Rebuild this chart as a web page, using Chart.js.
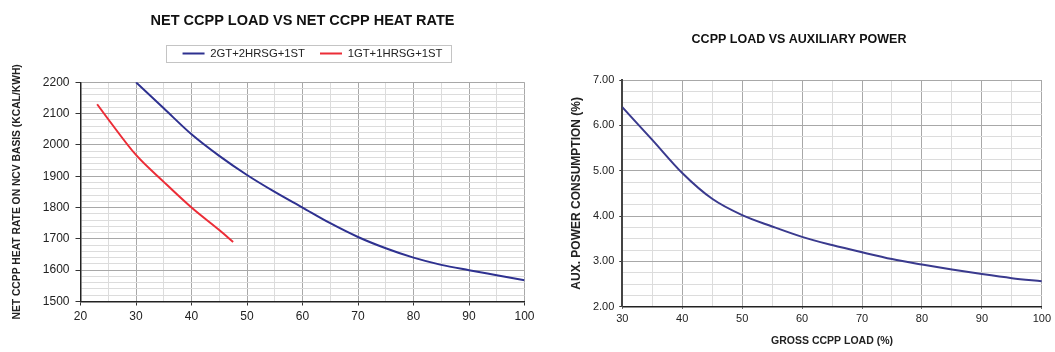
<!DOCTYPE html>
<html>
<head>
<meta charset="utf-8">
<script src="https://cdn.jsdelivr.net/npm/chart.js@4.4.1/dist/chart.umd.min.js"></script>
<style>
    html, body { margin: 0; padding: 0; background: #fff; }
    body { width: 1055px; height: 352px; position: relative; overflow: hidden; }
    #heat-rate-chart { position: absolute; left: 0; top: 0; }
    #aux-power-chart { position: absolute; left: 556px; top: 0; }
</style>
</head>
<body>
<canvas id="heat-rate-chart" width="606" height="352"></canvas>
<canvas id="aux-power-chart" width="499" height="352"></canvas>
<script>
const heatRateChart = document.getElementById('heat-rate-chart');
const auxPowerChart = document.getElementById('aux-power-chart');

// net CCPP load (%) against net heat rate (kcal/kWh)
const twoTrainLoad = [30, 35, 40, 45, 50, 55, 60, 65, 70, 75, 80, 85, 90, 95, 100];
const twoTrainHeatRate = [2200, 2117, 2034, 1965, 1904, 1850, 1800, 1750, 1706, 1670, 1640, 1617, 1600, 1584, 1568];
const oneTrainLoad = [23, 25, 30, 35, 40, 45, 47.5];
const oneTrainHeatRate = [2130, 2082, 1968, 1882, 1800, 1728, 1690];
const netLoadLabels = [20, 30, 40, 50, 60, 70, 80, 90, 100];
const heatRateLabels = [1500, 1600, 1700, 1800, 1900, 2000, 2100, 2200];

// gross CCPP load (%) against auxiliary power consumption (%)
const grossLoad = [30, 35, 40, 45, 50, 55, 60, 65, 70, 75, 80, 85, 90, 95, 100];
const auxPower = [6.40, 5.68, 4.95, 4.38, 4.02, 3.77, 3.54, 3.36, 3.20, 3.05, 2.93, 2.82, 2.72, 2.63, 2.56];
const grossLoadLabels = [30, 40, 50, 60, 70, 80, 90, 100];
const auxPowerLabels = [2, 3, 4, 5, 6, 7];

Chart.defaults.font.family = "'Liberation Sans', Arial, sans-serif";
Chart.defaults.color = '#222';

function toPoints(xs, ys) {
    return xs.map((x, i) => ({ x: x, y: ys[i] }));
}

function isMajor(labels, value) {
    return labels.some(v => Math.abs(v - value) < 1e-9);
}

// dark lines on labelled values, light ones in between
function gridFor(labels, tickLength) {
    return {
        color: ctx => isMajor(labels, ctx.tick.value) ? '#a8a8a8' : '#dcdcdc',
        tickColor: ctx => isMajor(labels, ctx.tick.value) ? '#333' : 'rgba(0,0,0,0)',
        tickLength: tickLength,
        lineWidth: 1
    };
}

// legend sits a little right of the plot centre, inside a grey frame
const legendFrame = {
    id: 'legendFrame',
    afterLayout(chart) {
        chart.legend.left += 10;
        chart.legend.right += 10;
    },
    afterDraw(chart) {
        const boxes = chart.legend && chart.legend.legendHitBoxes;
        if (!boxes || !boxes.length) return;
        const first = boxes[0];
        const last = boxes[boxes.length - 1];
        const ctx = chart.ctx;
        ctx.save();
        ctx.strokeStyle = '#c4c4c4';
        ctx.lineWidth = 1;
        ctx.strokeRect(Math.round(first.left - 17) + 0.5, Math.round(first.top - 3) + 0.5,
            Math.round(last.left + last.width - first.left + 25), Math.round(first.height + 6));
        ctx.restore();
    }
};

function plotHeatRateChart() {
    new Chart(heatRateChart, {
        type: 'scatter',
        data: {
            datasets: [{
                label: '2GT+2HRSG+1ST',
                data: toPoints(twoTrainLoad, twoTrainHeatRate),
                showLine: true,
                borderColor: '#2e3190',
                backgroundColor: '#2e3190',
                borderWidth: 2,
                pointRadius: 0,
                cubicInterpolationMode: 'monotone'
            }, {
                label: '1GT+1HRSG+1ST',
                data: toPoints(oneTrainLoad, oneTrainHeatRate),
                showLine: true,
                borderColor: '#ec2d37',
                backgroundColor: '#ec2d37',
                borderWidth: 2,
                pointRadius: 0,
                cubicInterpolationMode: 'monotone'
            }]
        },
        options: {
            responsive: false,
            animation: false,
            devicePixelRatio: 1,
            layout: { padding: { left: 0, right: 81.5, top: 0, bottom: 0 } },
            plugins: {
                title: {
                    display: true,
                    fullSize: false,
                    text: 'NET CCPP LOAD VS NET CCPP HEAT RATE',
                    font: { size: 14.5, weight: 'bold' },
                    color: '#111',
                    padding: { top: 11.8, bottom: 3.6 }
                },
                legend: {
                    display: true,
                    fullSize: false,
                    labels: {
                        usePointStyle: true,
                        pointStyle: 'line',
                        pointStyleWidth: 22,
                        padding: 15,
                        font: { size: 11.3 },
                        color: '#222'
                    }
                },
                // empty band between legend and plot
                subtitle: {
                    display: true,
                    fullSize: false,
                    text: '',
                    weight: 500,
                    font: { size: 11 },
                    padding: 0
                },
                tooltip: { enabled: false }
            },
            scales: {
                x: {
                    type: 'linear',
                    min: 20,
                    max: 100,
                    afterFit: s => { s.height = 50.5; },
                    ticks: {
                        stepSize: 5,
                        autoSkip: false,
                        maxRotation: 0,
                        padding: 4,
                        font: { size: 12 },
                        callback: v => isMajor(netLoadLabels, v) ? v : ''
                    },
                    grid: gridFor(netLoadLabels, 4),
                    border: { color: '#222', width: 1.5 }
                },
                y: {
                    type: 'linear',
                    min: 1500,
                    max: 2200,
                    afterFit: s => { s.width = 80.5; },
                    ticks: {
                        stepSize: 20,
                        autoSkip: false,
                        padding: 6,
                        font: { size: 12 },
                        callback: v => isMajor(heatRateLabels, v) ? v : ''
                    },
                    grid: gridFor(heatRateLabels, 5),
                    border: { color: '#222', width: 1.5 },
                    title: {
                        display: true,
                        text: 'NET CCPP HEAT RATE ON NCV BASIS (KCAL/KWH)',
                        font: { size: 10.3, weight: 'bold' },
                        color: '#222',
                        padding: { top: 10.8, bottom: 0 }
                    }
                }
            }
        },
        plugins: [legendFrame]
    });
}

function plotAuxPowerChart() {
    new Chart(auxPowerChart, {
        type: 'scatter',
        data: {
            datasets: [{
                label: 'Auxiliary power',
                data: toPoints(grossLoad, auxPower),
                showLine: true,
                borderColor: '#3a3a8e',
                borderWidth: 2,
                pointRadius: 0,
                cubicInterpolationMode: 'monotone'
            }]
        },
        options: {
            responsive: false,
            animation: false,
            devicePixelRatio: 1,
            layout: { padding: { left: 0, right: 13, top: 0, bottom: 0 } },
            plugins: {
                title: {
                    display: true,
                    text: 'CCPP LOAD VS AUXILIARY POWER',
                    font: { size: 12.5, weight: 'bold' },
                    color: '#111',
                    padding: { top: 32, bottom: 33 }
                },
                legend: { display: false },
                tooltip: { enabled: false }
            },
            scales: {
                x: {
                    type: 'linear',
                    min: 30,
                    max: 100,
                    afterFit: s => { s.height = 45.3; },
                    ticks: {
                        stepSize: 5,
                        autoSkip: false,
                        maxRotation: 0,
                        padding: 4,
                        font: { size: 11 },
                        callback: v => isMajor(grossLoadLabels, v) ? v : ''
                    },
                    grid: gridFor(grossLoadLabels, 2),
                    border: { color: '#222', width: 1.5 },
                    title: {
                        display: true,
                        text: 'GROSS CCPP LOAD (%)',
                        font: { size: 10.5, weight: 'bold' },
                        color: '#222',
                        padding: { top: 0, bottom: 4.5 }
                    }
                },
                y: {
                    type: 'linear',
                    min: 2,
                    max: 7,
                    afterFit: s => { s.width = 66.3; },
                    ticks: {
                        stepSize: 0.25,
                        autoSkip: false,
                        padding: 5,
                        font: { size: 11 },
                        callback: v => isMajor(auxPowerLabels, v) ? Number(v).toFixed(2) : ''
                    },
                    grid: gridFor(auxPowerLabels, 3),
                    border: { color: '#444', width: 2 },
                    title: {
                        display: true,
                        text: 'AUX. POWER CONSUMPTION (%)',
                        font: { size: 12, weight: 'bold' },
                        color: '#222',
                        padding: { top: 13.4, bottom: 0 }
                    }
                }
            }
        }
    });
}

plotHeatRateChart();

plotAuxPowerChart();
</script>
</body>
</html>
